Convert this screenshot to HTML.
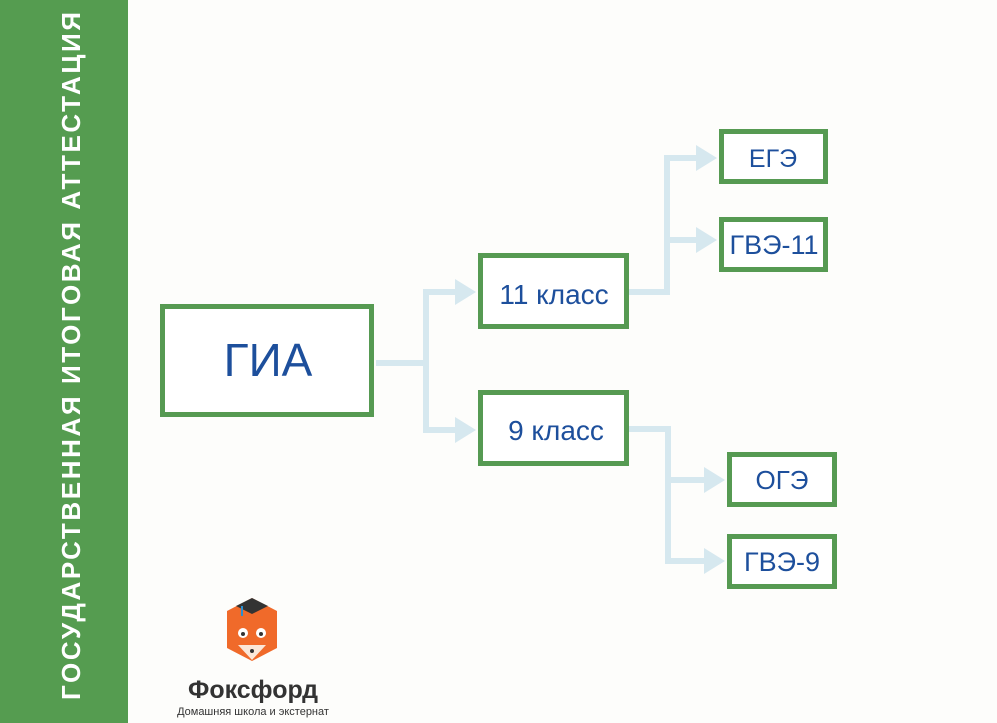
<!DOCTYPE html>
<html><head><meta charset="utf-8"><style>
html,body{margin:0;padding:0;background:#fdfdfb;}
svg{display:block}
</style></head><body>
<svg width="997" height="723" viewBox="0 0 997 723" xmlns="http://www.w3.org/2000/svg">
<rect width="997" height="723" fill="#fdfdfb"/>
<rect x="0" y="0" width="128" height="723" fill="#559c50"/>
<text transform="translate(80,700) rotate(-90)" x="0" y="0" font-family="Liberation Sans, DejaVu Sans, sans-serif" font-weight="bold" font-size="26" fill="#ffffff" textLength="688" lengthAdjust="spacing">ГОСУДАРСТВЕННАЯ ИТОГОВАЯ АТТЕСТАЦИЯ</text>

<g stroke="#d6e8ef" stroke-width="6" fill="none">
<polyline points="376,363 426,363"/>
<polyline points="458,292 426,292 426,430 458,430"/>
<polyline points="629,292 667,292 667,158 698,158"/>
<polyline points="667,240 698,240"/>
<polyline points="629,429 668,429 668,561 706,561"/>
<polyline points="668,480 706,480"/>
</g>
<g fill="#d6e8ef">
<polygon points="455,279 476,292 455,305"/>
<polygon points="455,417 476,430 455,443"/>
<polygon points="696,145 717,158 696,171"/>
<polygon points="696,227 717,240 696,253"/>
<polygon points="704,467 725,480 704,493"/>
<polygon points="704,548 725,561 704,574"/>
</g>

<g fill="#ffffff" stroke="#569a52" stroke-width="5">
<rect x="162.5" y="306.5" width="209" height="108"/>
<rect x="480.5" y="255.5" width="146" height="71"/>
<rect x="480.5" y="392.5" width="146" height="71"/>
<rect x="721.5" y="131.5" width="104" height="50"/>
<rect x="721.5" y="219.5" width="104" height="50"/>
<rect x="729.5" y="454.5" width="105" height="50"/>
<rect x="729.5" y="536.5" width="105" height="50"/>
</g>
<g font-family="Liberation Sans, DejaVu Sans, sans-serif" fill="#1d4f9c" text-anchor="middle">
<text x="268" y="376" font-size="46">ГИА</text>
<text x="554" y="304" font-size="28">11 класс</text>
<text x="556" y="440" font-size="28">9 класс</text>
<text x="773" y="167" font-size="25">ЕГЭ</text>
<text x="774" y="254" font-size="27">ГВЭ-11</text>
<text x="782" y="489" font-size="26">ОГЭ</text>
<text x="782" y="571" font-size="27">ГВЭ-9</text>
</g>

<g>
<polygon points="252,598 227,611 227,648 252,661 277,648 277,611" fill="#f06a2a"/>
<polygon points="236,606 252,598 268,606 252,614" fill="#333"/>
<line x1="242" y1="606" x2="242" y2="616" stroke="#2a8fd0" stroke-width="2"/>
<ellipse cx="243" cy="633" rx="5" ry="5" fill="#fff"/>
<ellipse cx="261" cy="633" rx="5" ry="5" fill="#fff"/>
<circle cx="243" cy="634" r="2" fill="#333"/>
<circle cx="261" cy="634" r="2" fill="#333"/>
<polygon points="238,645 266,645 252,660" fill="#fbe7d8"/>
<circle cx="252" cy="651" r="2" fill="#333"/>
</g>
<text x="253" y="698" font-family="Liberation Sans, DejaVu Sans, sans-serif" font-weight="bold" font-size="25" fill="#333" text-anchor="middle">Фоксфорд</text>
<text x="253" y="715" font-family="Liberation Sans, DejaVu Sans, sans-serif" font-size="11" fill="#333" text-anchor="middle">Домашняя школа и экстернат</text>
</svg>
</body></html>
